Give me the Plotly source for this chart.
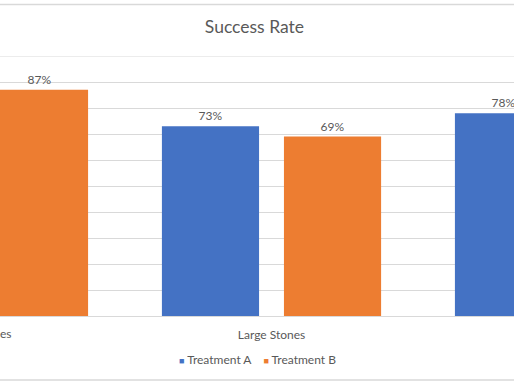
import plotly.graph_objects as go

categories = ["Small Stones", "Large Stones", "Both"]
treatment_a = [0.93, 0.73, 0.78]
treatment_b = [0.87, 0.69, 0.83]
series_names = ["Treatment A", "Treatment B"]
colors = ["#4472C4", "#ED7D31"]
title = "Success Rate"

FONT = "Lato, Calibri, Carlito, sans-serif"
GREY = "#595959"
GRID = "#D9D9D9"

x_range = [0.0734, 1.8276]

fig = go.Figure()
for name, vals, col in zip(series_names, [treatment_a, treatment_b], colors):
    fig.add_trace(go.Bar(
        x=categories, y=vals, name=name, marker_color=col,
        marker_line_width=0, showlegend=False,
        text=[f"{v:.0%}" for v in vals], textposition="outside",
        textfont=dict(family=FONT, size=12, color=GREY),
        cliponaxis=False,
    ))

fig.update_layout(
    width=514, height=386,
    margin=dict(l=0, r=0, t=56, b=70),
    paper_bgcolor="white", plot_bgcolor="white",
    barmode="group", bargap=0.167, bargroupgap=0.204,
    title=dict(text=title, x=0.495, xanchor="center", y=0.93, yanchor="middle",
               font=dict(family=FONT, size=17.5, color=GREY)),
    font=dict(family=FONT, color=GREY),
    showlegend=False,
)
fig.update_xaxes(type="category", range=x_range, showgrid=False, showline=True,
                 linecolor=GRID, linewidth=1, ticks="",
                 tickfont=dict(family=FONT, size=12, color=GREY),
                 ticklabelstandoff=8)
fig.update_yaxes(range=[0, 1.0], dtick=0.1, showgrid=True, gridcolor=GRID,
                 gridwidth=1, showticklabels=False, zeroline=False, showline=False)

# label for the category whose tick lies outside the visible range
span = x_range[1] - x_range[0]
fig.add_annotation(text=categories[0], xref="paper", yref="paper",
                   x=(0 - x_range[0]) / span, y=0, yshift=-17,
                   xanchor="center", yanchor="middle", showarrow=False,
                   font=dict(family=FONT, size=12, color=GREY))

# legend (compact swatch + label, as in the reference)
legend_text = "&nbsp;&nbsp;&nbsp;&nbsp;".join(
    f"<span style='color:{c}; font-size:9px'>■</span>&nbsp;{n}"
    for n, c in zip(series_names, colors))
fig.add_annotation(text=legend_text, xref="paper", yref="paper",
                   x=0.501, y=-0.169, xanchor="center", yanchor="middle",
                   showarrow=False, font=dict(family=FONT, size=12, color=GREY))

# top gridline and chart frame
fig.add_shape(type="line", xref="paper", yref="y", x0=0, x1=1, y0=1, y1=1,
              line=dict(color=GRID, width=1))
for yy in [1.198, -0.246]:
    fig.add_shape(type="line", xref="paper", yref="paper", x0=-0.1, x1=1.1,
                  y0=yy, y1=yy, line=dict(color=GRID, width=1.5))

fig.write_html("out.html", config={"displayModeBar": False},
               post_script="document.body.style.margin='0';document.body.style.overflow='hidden';")
